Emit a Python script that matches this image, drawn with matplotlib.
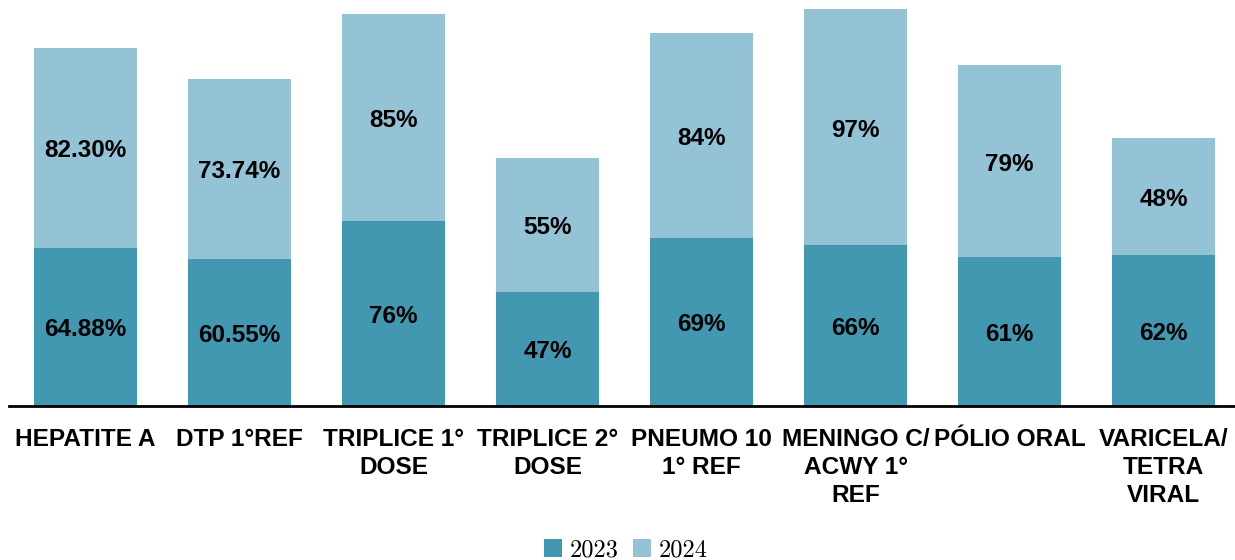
import matplotlib
matplotlib.use("Agg")
import matplotlib.pyplot as plt
import matplotlib.transforms as mtransforms
import numpy as np

categories = ["HEPATITE A", "DTP 1°REF", "TRIPLICE 1°\nDOSE", "TRIPLICE 2°\nDOSE",
              "PNEUMO 10\n1° REF", "MENINGO C/\nACWY 1°\nREF", "PÓLIO ORAL", "VARICELA/\nTETRA\nVIRAL"]
v2023 = [64.88, 60.55, 76, 47, 69, 66, 61, 62]
v2024 = [82.30, 73.74, 85, 55, 84, 97, 79, 48]
lbl2023 = ["64.88%", "60.55%", "76%", "47%", "69%", "66%", "61%", "62%"]
lbl2024 = ["82.30%", "73.74%", "85%", "55%", "84%", "97%", "79%", "48%"]

c2023 = "#4298B0"
c2024 = "#93C3D4"

fig = plt.figure(figsize=(12.35, 5.6), dpi=100)
ax = fig.add_axes([8.5/1235, 1-406/560, 1-8.5/1235, 406/560])
x = np.arange(len(categories))
w = 0.67
b1 = ax.bar(x, v2023, w, color=c2023, label="2023")
b2 = ax.bar(x, v2024, w, bottom=v2023, color=c2024, label="2024")
tr = mtransforms.offset_copy(ax.transData, fig=fig, x=0, y=-3, units="dots")
for i in range(len(x)):
    ax.text(x[i], v2023[i]/2, lbl2023[i], ha="center", va="center", transform=tr,
            fontsize=17.5, fontweight="bold", family="Liberation Sans")
    ax.text(x[i], v2023[i] + v2024[i]/2, lbl2024[i], ha="center", va="center", transform=tr,
            fontsize=17.5, fontweight="bold", family="Liberation Sans")

ax.set_xlim(-0.5, 7.464)
ax.set_ylim(0, 166.7)
for s in ["top", "right", "left"]:
    ax.spines[s].set_visible(False)
ax.spines["bottom"].set_linewidth(2)
ax.spines["bottom"].set_color("black")
ax.set_yticks([])
ax.set_xticks(x)
ax.set_xticklabels(categories, fontsize=17.6, fontweight="bold", family="Liberation Sans",
                   linespacing=1.3, va="top")
ax.tick_params(axis="x", length=0, pad=15.5)

leg = fig.legend(handles=[b1, b2], labels=["2023", "2024"], loc="center",
                 bbox_to_anchor=(626/1235, 1-550/560), ncol=2, frameon=False,
                 prop={"family": "cmr10", "size": 17.5}, handlelength=0.75,
                 handleheight=0.75, handletextpad=0.3, columnspacing=0.6)
fig.savefig("out.png", dpi=100)
